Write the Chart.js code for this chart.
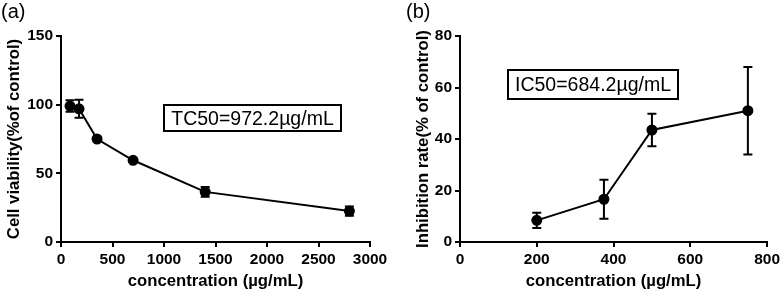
<!DOCTYPE html>
<html>
<head>
<meta charset="utf-8">
<script src="https://cdn.jsdelivr.net/npm/chart.js@4"></script>
<style>
  body { margin: 0; background: #fff; }
  #wrap { position: relative; width: 783px; height: 293px; font-family: "Liberation Sans", Arial, sans-serif; }
  canvas { position: absolute; top: 0; }
  .tag { position: absolute; font-size: 20px; color: #000; line-height: 1; }
  .box { position: absolute; border: 2px solid #000; box-sizing: border-box; font-size: 19.5px;
         display: flex; align-items: center; justify-content: center; color: #000; white-space: nowrap; }
</style>
</head>
<body>
<div id="wrap">
  <canvas id="chartA" width="392" height="293" style="left:0"></canvas>
  <canvas id="chartB" width="391" height="293" style="left:392px"></canvas>
  <div class="tag" style="left:1px;top:1px">(a)</div>
  <div class="tag" style="left:406px;top:1px">(b)</div>
  <div class="box" style="left:163px;top:104px;width:179px;height:28px">TC50=972.2µg/mL</div>
  <div class="box" style="left:507px;top:69px;width:172px;height:31px">IC50=684.2µg/mL</div>
</div>
<script>
// panel (a) - cytotoxicity
const concA = [87.5, 175, 350, 700, 1400, 2800];
const viability = [99, 97, 75, 59.5, 36.5, 22.5];
const viabilityErr = [4.2, 6.5, 1, 1, 3.5, 3.4];

// panel (b) - inhibition
const concB = [200, 375, 500, 750];
const inhibition = [8.4, 16.6, 43.5, 51];
const inhibitionErr = [3, 7.6, 6.3, 17];

const FONT = "'Liberation Sans', Arial, sans-serif";

const errorBars = {
    id: "errorBars",
    afterDatasetsDraw(chart, args, opts) {
        const { ctx, scales: { x, y } } = chart;
        const pts = chart.data.datasets[0].data;
        ctx.save();
        ctx.strokeStyle = "#000";
        ctx.lineWidth = 2;
        pts.forEach((p, i) => {
            const e = opts.errors[i];
            const px = x.getPixelForValue(p.x);
            const top = y.getPixelForValue(p.y + e);
            const bot = y.getPixelForValue(p.y - e);
            ctx.beginPath();
            ctx.moveTo(px, top); ctx.lineTo(px, bot);
            ctx.moveTo(px - 4.5, top); ctx.lineTo(px + 4.5, top);
            ctx.moveTo(px - 4.5, bot); ctx.lineTo(px + 4.5, bot);
            ctx.stroke();
        });
        ctx.restore();
    }
};

function axis(min, max, step, title, titlePad, extra) {
    return Object.assign({
        type: "linear",
        min, max,
        ticks: { stepSize: step, color: "#000", padding: 3, callback: v => String(v),
                 font: { family: FONT, size: 15.5, weight: "bold" } },
        grid: { display: true, drawOnChartArea: false, drawTicks: true, tickLength: 5, color: "#000", lineWidth: 2 },
        border: { display: true, color: "#000", width: 2 },
        title: { display: true, text: title, color: "#000", padding: titlePad,
                 font: { family: FONT, size: 16.7, weight: "bold" } }
    }, extra);
}

function makeChart(id, xs, ys, errs, xr, yr, ytitle, yWidth, yTitlePad, padRight) {
    return new Chart(document.getElementById(id), {
        type: "scatter",
        data: {
            datasets: [{
                data: xs.map((v, i) => ({ x: v, y: ys[i] })),
                showLine: true,
                borderColor: "#000",
                borderWidth: 2,
                backgroundColor: "#000",
                pointRadius: 4.5,
                tension: 0
            }]
        },
        options: {
            responsive: false,
            animation: false,
            layout: { padding: { left: 0, right: padRight, top: 36, bottom: 0 } },
            plugins: { legend: { display: false }, tooltip: { enabled: false }, errorBars: { errors: errs } },
            scales: {
                x: axis(xr[0], xr[1], xr[2], "concentration (µg/mL)", { top: 0, bottom: 2 },
                        { afterFit: s => { s.height = 51; } }),
                y: axis(yr[0], yr[1], yr[2], ytitle, { top: yTitlePad, bottom: 0 },
                        { afterFit: s => { s.width = yWidth; } })
            }
        },
        plugins: [errorBars]
    });
}

makeChart("chartA", concA, viability, viabilityErr, [0, 3000, 500], [0, 150, 50], "Cell viability(%of control)", 61, 4, 22);
makeChart("chartB", concB, inhibition, inhibitionErr, [0, 800, 200], [0, 80, 20], "Inhibition rate(% of control)", 68, 21, 14);
</script>
</body>
</html>
